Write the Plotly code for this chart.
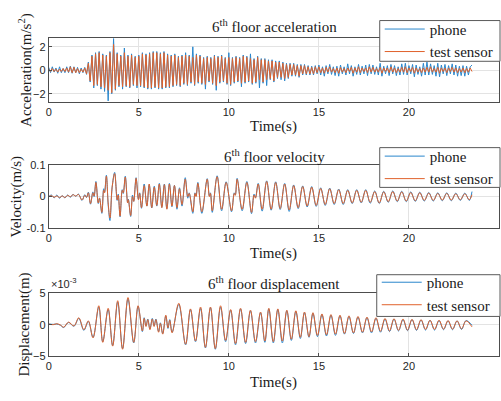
import plotly.graph_objects as go

# ---------------- data ----------------
# Acceleration (m/s^2), sampled every acc_dt seconds starting at t = 0
acc_dt = 0.1
acc_sensor = [
    0.1, -0.1, 0.15, -0.1, 0.1, -0.15, 0.1, -0.1, 0.15, -0.1,
    0.2, -0.15, 0.3, -0.2, 0.25, -0.2, 0.15, -0.2, 0.1, -0.15,
    0.2, -0.3, 0.6, -0.9, 1.2, -1.3, 1.4, -1.2, 1.5, -1.4,
    1.3, -1.5, 1.2, -1.7, 1.5, -1.9, 2.2, -1.6, 1.4, -1.3,
    1.2, -1.4, 1.5, -1.3, 1.2, -1.4, 1.3, -1.2, 1.1, -1.3,
    1.2, -1.3, 1.4, -1.4, 1.3, -1.5, 1.4, -1.5, 1.5, -1.4,
    1.5, -1.5, 1.4, -1.5, 1.5, -1.4, 1.3, -1.4, 1.2, -1.3,
    1.3, -1.2, 1.1, -1.3, 1.2, -1.1, 1.3, -1.2, 1.2, -1.0,
    1.1, -1.2, 1.3, -1.0, 1.2, -1.1, 1.0, -1.2, 1.1, -0.9,
    1.0, -1.1, 1.2, -1.3, 1.1, -1.0, 1.2, -0.9, 1.0, -1.1,
    1.1, -1.2, 1.0, -1.0, 1.1, -0.9, 1.0, -1.1, 1.2, -1.0,
    1.1, -0.9, 1.0, -1.1, 0.9, -1.0, 1.1, -0.8, 0.9, -1.0,
    0.9, -0.8, 0.8, -0.7, 0.8, -0.9, 0.7, -0.6, 0.7, -0.6,
    0.6, -0.7, 0.5, -0.6, 0.5, -0.4, 0.5, -0.4, 0.4, -0.5,
    0.4, -0.3, 0.4, -0.3, 0.3, -0.3, 0.25, -0.3, 0.3, -0.2,
    0.3, -0.2, 0.2, -0.25, 0.25, -0.15, 0.3, -0.15, 0.15, -0.2,
    0.2, -0.25, 0.25, -0.15, 0.15, -0.2, 0.2, -0.1, 0.25, -0.25,
    0.2, -0.15, 0.3, -0.2, 0.2, -0.1, 0.2, -0.2, 0.3, -0.15,
    0.25, -0.15, 0.15, -0.15, 0.25, -0.25, 0.2, -0.1, 0.2, -0.2,
    0.3, -0.15, 0.2, -0.2, 0.15, -0.15, 0.25, -0.15, 0.3, -0.2,
    0.2, -0.1, 0.25, -0.25, 0.2, -0.15, 0.15, -0.2, 0.2, -0.15,
    0.25, -0.15, 0.3, -0.15, 0.15, -0.15, 0.25, -0.25, 0.2, -0.1,
    0.2, -0.2, 0.2, -0.1, 0.25, -0.15, 0.2, -0.2, 0.15, -0.15,
    0.2, -0.2, 0.15, -0.15, 0.2, -0.1,
]
acc_phone = [
    0.25, -0.2, 0.3, -0.15, 0.2, -0.25, 0.3, -0.2, 0.15, -0.2,
    0.3, -0.2, 0.35, -0.25, 0.3, -0.2, 0.25, -0.3, 0.2, -0.2,
    0.25, -0.35, 0.7, -1.0, 1.3, -1.5, 1.5, -1.3, 1.6, -1.6,
    1.4, -1.8, 1.3, -2.6, 1.6, -2.0, 2.7, -1.7, 1.5, -1.4,
    1.3, -1.6, 1.9, -1.4, 1.3, -1.5, 1.4, -1.3, 1.2, -1.5,
    1.3, -1.4, 1.5, -1.5, 1.4, -1.6, 1.5, -1.6, 1.6, -1.5,
    1.6, -1.6, 1.5, -1.6, 1.6, -1.5, 1.4, -1.5, 1.3, -1.4,
    1.4, -1.3, 1.2, -1.4, 1.3, -1.2, 1.5, -1.3, 1.3, -1.1,
    2.0, -1.3, 1.4, -1.1, 1.3, -1.2, 1.1, -1.6, 1.2, -1.0,
    1.1, -1.2, 1.3, -1.7, 1.2, -1.1, 1.3, -1.0, 1.1, -1.2,
    1.5, -1.3, 1.1, -1.1, 1.2, -1.0, 1.1, -1.4, 1.3, -1.1,
    1.2, -1.0, 1.4, -1.2, 1.0, -1.1, 1.2, -1.5, 1.0, -1.1,
    1.0, -1.3, 0.9, -0.8, 0.9, -1.0, 0.8, -0.7, 0.8, -0.8,
    0.7, -0.9, 0.6, -0.7, 0.6, -0.5, 0.6, -0.5, 0.5, -0.6,
    0.5, -0.4, 0.5, -0.4, 0.4, -0.4, 0.35, -0.4, 0.4, -0.3,
    0.45, -0.4, 0.3, -0.5, 0.4, -0.3, 0.5, -0.35, 0.3, -0.45,
    0.35, -0.5, 0.45, -0.3, 0.3, -0.4, 0.55, -0.3, 0.4, -0.5,
    0.3, -0.35, 0.5, -0.4, 0.35, -0.3, 0.45, -0.45, 0.5, -0.3,
    0.45, -0.35, 0.3, -0.4, 0.6, -0.5, 0.35, -0.3, 0.4, -0.45,
    0.5, -0.3, 0.4, -0.45, 0.3, -0.4, 0.55, -0.35, 0.6, -0.4,
    0.4, -0.3, 0.5, -0.55, 0.45, -0.35, 0.3, -0.5, 0.6, -0.4,
    0.7, -0.4, 0.55, -0.35, 0.4, -0.5, 0.6, -0.55, 0.45, -0.3,
    0.5, -0.45, 0.4, -0.3, 0.55, -0.4, 0.45, -0.5, 0.35, -0.45,
    0.4, -0.5, 0.35, -0.4, 0.3, 0.45,
]

# Velocity (m/s): turning points
vel_t = [
    0.0, 0.15, 0.3, 0.45, 0.6, 0.75, 0.9, 1.05, 1.2, 1.35, 1.5, 1.65, 1.85, 2.0,
    2.1, 2.2, 2.32, 2.45, 2.52, 2.62, 2.75, 2.82, 2.95, 3.05, 3.1, 3.2, 3.3, 3.4,
    3.52, 3.66, 3.8, 3.86, 3.96, 4.08, 4.14, 4.25, 4.38, 4.42, 4.55, 4.65, 4.72,
    4.85, 4.98, 5.05, 5.15, 5.3, 5.45, 5.58, 5.72, 5.86, 6.0, 6.14, 6.28, 6.42,
    6.56, 6.7, 6.84, 6.98, 7.12, 7.26, 7.4, 7.58, 7.72, 7.8, 8.0, 8.12, 8.18,
    8.28, 8.5, 8.8, 8.92, 8.98, 9.08, 9.35, 9.6, 9.85, 10.15, 10.3, 10.36, 10.46,
    10.74, 11.0, 11.26, 11.4, 11.48, 11.63, 11.85,
    12.1, 12.35, 12.6, 12.85, 13.1, 13.35, 13.6, 13.85, 14.1, 14.35, 14.6, 14.85,
    15.1, 15.35, 15.6, 15.85, 16.1, 16.35, 16.6, 16.85, 17.1, 17.35, 17.6, 17.85,
    18.1, 18.35, 18.6, 18.85, 19.1, 19.35, 19.6, 19.85, 20.1, 20.35, 20.6, 20.85,
    21.1, 21.35, 21.6, 21.85, 22.1, 22.35, 22.6, 22.85, 23.1, 23.35, 23.5,
]
vel_sensor = [
    0.0, 0.003, -0.002, 0.002, -0.003, 0.002, -0.003, 0.004, 0.0, 0.006, 0.002, 0.007, -0.011, 0.004,
    -0.002, 0.012, -0.022, 0.012, 0.002, 0.045, -0.02, -0.005, -0.05, 0.02, 0.012, 0.065, -0.02, -0.068,
    0.03, 0.073, -0.01, 0.005, -0.062, 0.02, 0.012, 0.062, -0.02, -0.01, -0.06, 0.0, -0.015,
    0.058, -0.01, 0.01, -0.035, 0.035, -0.03, 0.04, -0.035, 0.03, -0.028, 0.04, -0.035, 0.038,
    -0.04, 0.04, -0.03, 0.035, -0.035, 0.025, -0.025, 0.055, 0.0, 0.01, -0.048, 0.01, 0.0,
    0.042, -0.048, 0.055, 0.0, 0.01, -0.045, 0.063, -0.04, 0.045, -0.045, 0.01, 0.004, 0.055,
    -0.04, 0.045, -0.05, 0.005, -0.005, 0.04, -0.04,
    0.048, -0.04, 0.045, -0.038, 0.04, -0.042, 0.035, -0.035, 0.032, -0.03, 0.03, -0.028,
    0.026, -0.025, 0.025, -0.022, 0.022, -0.022, 0.02, -0.02, 0.02, -0.018, 0.02, -0.018,
    0.016, -0.02, 0.015, -0.016, 0.016, -0.014, 0.015, -0.014, 0.013, -0.013, 0.012, -0.012,
    0.011, -0.012, 0.01, -0.011, 0.01, -0.011, 0.009, -0.01, 0.009, -0.01, 0.006,
]
vel_phone = [
    0.0, 0.005, -0.004, 0.005, -0.005, 0.003, -0.004, 0.005, -0.002, 0.007, 0.001, 0.008, -0.012, 0.006,
    -0.003, 0.014, -0.024, 0.015, 0.0, 0.048, -0.022, -0.004, -0.053, 0.025, 0.014, 0.068, -0.025, -0.076,
    0.028, 0.077, -0.012, 0.008, -0.064, 0.022, 0.01, 0.065, -0.018, -0.008, -0.063, 0.005, -0.015,
    0.06, -0.008, 0.012, -0.037, 0.04, -0.03, 0.038, -0.036, 0.033, -0.03, 0.042, -0.034, 0.04,
    -0.038, 0.042, -0.032, 0.036, -0.04, 0.028, -0.03, 0.06, -0.005, 0.012, -0.053, 0.012, 0.002,
    0.045, -0.053, 0.057, 0.002, 0.012, -0.05, 0.066, -0.045, 0.047, -0.048, 0.012, 0.006, 0.058,
    -0.045, 0.048, -0.054, 0.008, -0.003, 0.042, -0.046,
    0.05, -0.043, 0.047, -0.041, 0.042, -0.047, 0.037, -0.038, 0.034, -0.033, 0.032, -0.031,
    0.028, -0.028, 0.027, -0.025, 0.024, -0.025, 0.022, -0.022, 0.022, -0.02, 0.022, -0.021,
    0.018, -0.022, 0.017, -0.018, 0.018, -0.016, 0.017, -0.016, 0.015, -0.015, 0.014, -0.014,
    0.013, -0.014, 0.012, -0.013, 0.012, -0.013, 0.011, -0.012, 0.011, -0.012, 0.016,
]

# Displacement (units of 1e-3 m): turning points
disp_t = [
    0.0, 0.25, 0.45, 0.65, 0.83, 1.1, 1.4, 1.67, 1.95, 2.2, 2.46, 2.78, 3.0, 3.3,
    3.55, 3.83, 4.1, 4.4, 4.72, 4.96, 5.2, 5.3, 5.4, 5.5, 5.62, 5.75, 5.85, 5.95,
    6.1, 6.2, 6.33, 6.5, 6.62, 6.72, 6.85, 7.22, 7.6, 7.87, 8.15, 8.43, 8.7, 8.98,
    9.25, 9.54, 9.82, 10.1, 10.37, 10.65, 10.93, 11.2, 11.48, 11.76, 12.0, 12.22,
    12.47, 12.72, 12.97, 13.22, 13.47, 13.72, 13.97, 14.2, 14.45, 14.67, 14.92,
    15.17, 15.42, 15.67, 15.92, 16.17, 16.42, 16.67, 16.92, 17.17, 17.42, 17.67,
    17.92, 18.17, 18.42, 18.67, 18.92, 19.17, 19.42, 19.67, 19.92, 20.17, 20.42,
    20.67, 20.92, 21.17, 21.42, 21.67, 21.92, 22.17, 22.42, 22.67, 22.92, 23.17, 23.5,
]
disp_sensor = [
    0.1, 0.0, 0.15, -0.05, -0.4, 0.4, -0.2, 1.1, -0.8, 0.6, -2.1, 3.0, -2.8, 2.6,
    -3.4, 3.8, -3.9, 4.3, -2.8, 3.0, -1.0, 1.0, -0.3, 0.8, -0.8, 0.9, -0.3, 0.8,
    -1.2, 0.2, -1.5, 1.5, -0.5, 0.7, -1.3, 3.4, -3.1, 2.5, -2.6, 2.8, -3.6, 2.8,
    -3.8, 3.0, -2.5, 2.4, -3.0, 2.6, -2.8, 2.3, -2.7, 2.0, -2.6, 2.6,
    -2.7, 2.5, -2.6, 2.3, -2.3, 2.2, -2.0, 2.0, -1.9, 1.9, -1.7,
    1.7, -1.6, 1.6, -1.5, 1.5, -1.4, 1.4, -1.3, 1.3, -1.2, 1.2,
    -1.15, 1.1, -1.05, 1.0, -1.0, 0.95, -0.9, 0.9, -0.85, 0.85, -0.8,
    0.8, -0.75, 0.7, -0.75, 0.7, -0.7, 0.65, -0.7, 0.6, -0.65, 0.6, -0.35,
]
disp_phone = [
    0.1, 0.05, 0.1, -0.1, -0.45, 0.35, -0.25, 1.0, -0.9, 0.5, -2.0, 2.8, -2.7, 2.4,
    -3.3, 3.6, -3.8, 4.1, -2.9, 2.9, -1.1, 1.1, -0.2, 0.9, -0.7, 1.0, -0.2, 0.9,
    -1.1, 0.3, -1.4, 1.4, -0.6, 0.8, -1.2, 3.2, -3.2, 2.4, -2.7, 2.6, -3.7, 2.7,
    -3.9, 2.8, -2.7, 2.3, -3.2, 2.5, -3.0, 2.2, -2.9, 1.9, -2.8, 2.5,
    -2.9, 2.4, -2.9, 2.2, -2.5, 2.1, -2.2, 1.9, -2.0, 1.8, -1.9,
    1.6, -1.8, 1.5, -1.7, 1.4, -1.5, 1.3, -1.4, 1.2, -1.3, 1.1,
    -1.3, 1.0, -1.2, 0.9, -1.1, 0.9, -1.0, 0.8, -0.95, 0.8, -0.9,
    0.75, -0.85, 0.7, -0.85, 0.65, -0.8, 0.6, -0.8, 0.6, -0.75, 0.65, -0.1,
]

series_names = ["phone", "test sensor"]
titles = ["6<sup>th</sup> floor acceleration", "6<sup>th</sup> floor velocity",
          "6<sup>th</sup> floor displacement"]
ylabels = ["Acceleration(m/s<sup>2</sup>)", "Velocity(m/s)", "Displacement(m)"]
x_ticks = [0, 5, 10, 15, 20, 25]
acc_ticks = [-2, 0, 2]
vel_ticks = [-0.1, 0, 0.1]
vel_ticktext = ["-0.1", "0", "0.1"]
disp_ticks = [-5, 0, 5]

# ---------------- figure ----------------
W, H = 501, 401
BLUE = "#2a87cc"
ORANGE = "#e0622c"
SERIF = "Liberation Serif"
SANS = "Liberation Sans"
AX = "#4d4d4d"
GRID = "#e3e3e3"

t_acc = [round(i * acc_dt, 3) for i in range(len(acc_sensor))]

xl, xr = 46, 499
boxes = [(33, 99), (164, 229), (296, 361)]

def py(p):
    return 1 - p / H

def px(p):
    return p / W

fig = go.Figure()
data = [
    (t_acc, acc_phone, acc_sensor, "linear"),
    (vel_t, vel_phone, vel_sensor, "spline"),
    (disp_t, disp_phone, disp_sensor, "spline"),
]
for i, (tt, ph, se, shape) in enumerate(data):
    xa = "x" if i == 0 else f"x{i+1}"
    ya = "y" if i == 0 else f"y{i+1}"
    lg = "legend" if i == 0 else f"legend{i+1}"
    fig.add_trace(go.Scatter(x=tt, y=ph, mode="lines", name=series_names[0],
                             line=dict(color=BLUE, width=1, shape=shape),
                             xaxis=xa, yaxis=ya, legend=lg))
    fig.add_trace(go.Scatter(x=tt, y=se, mode="lines", name=series_names[1],
                             line=dict(color=ORANGE, width=1, shape=shape),
                             xaxis=xa, yaxis=ya, legend=lg))

common_x = dict(range=[0, 25], tickvals=x_ticks, showgrid=True, gridcolor=GRID,
                showline=True, linecolor=AX, linewidth=1, mirror=True,
                ticks="inside", ticklen=3, tickcolor=AX, zeroline=False,
                tickfont=dict(family=SANS, size=11, color="#262626"))
common_y = dict(showgrid=True, gridcolor=GRID, showline=True, linecolor=AX,
                linewidth=1, mirror=True, ticks="inside", ticklen=3, tickcolor=AX,
                zeroline=False, tickfont=dict(family=SANS, size=11, color="#262626"))

yranges = [[-2.7, 2.75], [-0.1, 0.1], [-5, 5]]
yticks = [dict(tickvals=acc_ticks), dict(tickvals=vel_ticks, ticktext=vel_ticktext),
          dict(tickvals=disp_ticks)]

layout = dict(width=W, height=H, autosize=False, margin=dict(l=0, r=0, t=0, b=0, pad=0),
              paper_bgcolor="white", plot_bgcolor="white", showlegend=True)
for i, (top, bot) in enumerate(boxes):
    xk = "xaxis" if i == 0 else f"xaxis{i+1}"
    yk = "yaxis" if i == 0 else f"yaxis{i+1}"
    yname = "y" if i == 0 else f"y{i+1}"
    xname = "x" if i == 0 else f"x{i+1}"
    layout[xk] = dict(common_x, domain=[px(xl), px(xr)], anchor=yname)
    layout[yk] = dict(common_y, domain=[py(bot), py(top)], anchor=xname,
                      range=yranges[i], **yticks[i])

# legend frames (white boxes, like MATLAB's opaque legend) and legend item placement
legend_boxes = [(379, 15, 500, 57), (379, 146, 500, 187), (376, 277, 500, 320)]
legend_tops = [7, 138, 268]
shapes = []
for i, (x0, y0, x1, y1) in enumerate(legend_boxes):
    key = "legend" if i == 0 else f"legend{i+1}"
    layout[key] = dict(x=px(x0), y=py(legend_tops[i]), xanchor="left", yanchor="top",
                       bgcolor="rgba(255,255,255,0)", borderwidth=0,
                       font=dict(family=SERIF, size=15, color="#1a1a1a"),
                       tracegroupgap=0, itemwidth=40)
    shapes.append(dict(type="rect", xref="paper", yref="paper", x0=px(x0), x1=px(x1),
                       y0=py(y1), y1=py(y0), layer="above", fillcolor="white",
                       line=dict(color="#5a5a5a", width=1)))
layout["shapes"] = shapes
fig.update_layout(**layout)

anns = []
title_y = [21, 155, 286]
xtitle_y = [124, 255, 388]
ylabel_x = [22, 14, 22]
for i, (top, bot) in enumerate(boxes):
    anns.append(dict(text=titles[i], x=px(273), y=py(title_y[i]), xref="paper", yref="paper",
                     showarrow=False, xanchor="center", yanchor="middle",
                     font=dict(family=SERIF, size=15, color="#1a1a1a")))
    anns.append(dict(text="Time(s)", x=px(272), y=py(xtitle_y[i]), xref="paper", yref="paper",
                     showarrow=False, xanchor="center", yanchor="middle",
                     font=dict(family=SERIF, size=15, color="#1a1a1a")))
    anns.append(dict(text=ylabels[i], x=px(ylabel_x[i]), y=py((top + bot) / 2), xref="paper",
                     yref="paper", showarrow=False, xanchor="center", yanchor="middle",
                     textangle=-90, font=dict(family=SERIF, size=15, color="#1a1a1a")))
anns.append(dict(text="×10<sup>-3</sup>", x=px(46), y=py(295), xref="paper", yref="paper",
                 showarrow=False, xanchor="left", yanchor="bottom",
                 font=dict(family=SANS, size=11, color="#262626")))
fig.update_layout(annotations=anns)

fig.write_html("out.html", config={"displayModeBar": False},
               post_script="document.body.style.margin='0';document.body.style.overflow='hidden';")
